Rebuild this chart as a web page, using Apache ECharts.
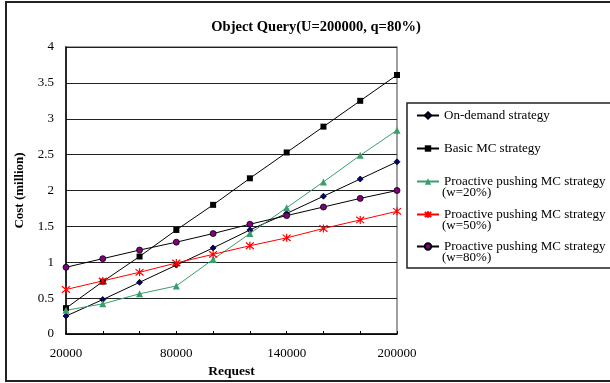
<!DOCTYPE html>
<html>
<head>
<meta charset="utf-8">
<script src="https://cdn.jsdelivr.net/npm/echarts@6/dist/echarts.min.js"></script>
<style>
  html, body {margin: 0; padding: 0; background: #fff;}
  #chart {width: 610px; height: 383px;}
</style>
</head>
<body>
<div id="chart"></div>
<script>
var requests = ['20000', '40000', '60000', '80000', '100000', '120000', '140000', '160000', '180000', '200000'];
var onDemand = [0.25, 0.48, 0.72, 0.96, 1.20, 1.45, 1.68, 1.92, 2.16, 2.40];
var basicMC = [0.36, 0.73, 1.08, 1.45, 1.80, 2.17, 2.53, 2.89, 3.25, 3.61];
var push20 = [0.33, 0.42, 0.56, 0.67, 1.04, 1.40, 1.76, 2.12, 2.49, 2.84];
var push50 = [0.62, 0.74, 0.86, 0.99, 1.11, 1.23, 1.34, 1.47, 1.59, 1.71];
var push80 = [0.93, 1.05, 1.17, 1.28, 1.40, 1.53, 1.65, 1.77, 1.89, 2.00];
var seriesNames = ['On-demand strategy', 'Basic MC strategy', 'Proactive pushing MC strategy ', 'Proactive pushing MC strategy  ', 'Proactive pushing MC strategy'];
var legendSubs = ['', '', '(w=20%)', '(w=50%)', '(w=80%)'];
var legendTops = [113, 146, 179, 212, 244];

var serif = "'Liberation Serif', 'Times New Roman', serif";
var starPath = 'path://M-4,-4L4,4M-4,4L4,-4M0,-5L0,5';

var myChart = echarts.init(document.getElementById('chart'));

var legends = [];
var graphics = [
  {type: 'rect', shape: {x: 6, y: 2, width: 620, height: 379}, style: {fill: 'none', stroke: '#222', lineWidth: 2}, z: -1},
  {type: 'rect', shape: {x: 407, y: 103, width: 220, height: 165}, style: {fill: '#fff', stroke: '#222', lineWidth: 1.5}, z: -1}
];
seriesNames.forEach(function (name, i) {
  legends.push({
    data: [name],
    left: 416,
    top: legendTops[i] - 4,
    padding: 0,
    itemWidth: 22,
    itemHeight: 8,
    itemGap: 4,
    textStyle: {fontFamily: serif, fontSize: 13, color: '#000'}
  });
  if (legendSubs[i]) {
    graphics.push({
      type: 'text', left: 442, top: legendTops[i] + 7,
      style: {text: legendSubs[i], font: '13px ' + serif, fill: '#000'}
    });
  }
});

myChart.setOption({
  animation: false,
  backgroundColor: '#fff',
  title: {
    text: 'Object Query(U=200000, q=80%)',
    left: 311,
    textAlign: 'center',
    top: 15,
    textStyle: {fontFamily: serif, fontSize: 14.5, fontWeight: 'bold', color: '#000'}
  },
  legend: legends,
  graphic: graphics,
  grid: {
    left: 66, right: 213, top: 47, bottom: 49,
    outerBoundsMode: 'none',
    show: true, borderColor: '#808080', borderWidth: 1.5
  },
  xAxis: {
    type: 'category',
    data: requests,
    boundaryGap: false,
    name: 'Request',
    nameLocation: 'middle',
    nameGap: 30,
    nameTextStyle: {fontFamily: serif, fontSize: 13.5, fontWeight: 'bold', color: '#000'},
    axisLine: {lineStyle: {color: '#000', width: 1.5}},
    axisTick: {inside: true, length: 3, interval: 0, lineStyle: {color: '#000'}},
    axisLabel: {interval: 2, margin: 13, fontFamily: serif, fontSize: 13, color: '#000'},
    splitLine: {show: false}
  },
  yAxis: {
    type: 'value',
    min: 0, max: 4, interval: 0.5,
    name: 'Cost (million)',
    nameLocation: 'middle',
    nameGap: 40,
    nameTextStyle: {fontFamily: serif, fontSize: 13, fontWeight: 'bold', color: '#000'},
    axisLine: {show: true, lineStyle: {color: '#000', width: 1.5}},
    axisTick: {show: false},
    axisLabel: {margin: 12, fontFamily: serif, fontSize: 13, color: '#000'},
    splitLine: {lineStyle: {color: '#222', width: 1}}
  },
  series: [{
    name: seriesNames[0], type: 'line', data: onDemand,
    symbol: 'diamond', symbolSize: 6,
    lineStyle: {color: '#000', width: 1},
    itemStyle: {color: '#000080', borderColor: '#000', borderWidth: 0.8}
  }, {
    name: seriesNames[1], type: 'line', data: basicMC,
    symbol: 'rect', symbolSize: 6,
    lineStyle: {color: '#000', width: 1},
    itemStyle: {color: '#000'}
  }, {
    name: seriesNames[2], type: 'line', data: push20,
    symbol: 'triangle', symbolSize: 7,
    lineStyle: {color: '#3c9c6c', width: 1},
    itemStyle: {color: '#3c9c6c'}
  }, {
    name: seriesNames[3], type: 'line', data: push50,
    symbol: starPath, symbolSize: 8,
    lineStyle: {color: '#ff0000', width: 1},
    itemStyle: {color: '#ff0000', borderColor: '#ff0000', borderWidth: 1.2}
  }, {
    name: seriesNames[4], type: 'line', data: push80,
    symbol: 'circle', symbolSize: 6,
    lineStyle: {color: '#000', width: 1},
    itemStyle: {color: '#800080', borderColor: '#000', borderWidth: 0.8}
  }]
});
</script>
</body>
</html>
